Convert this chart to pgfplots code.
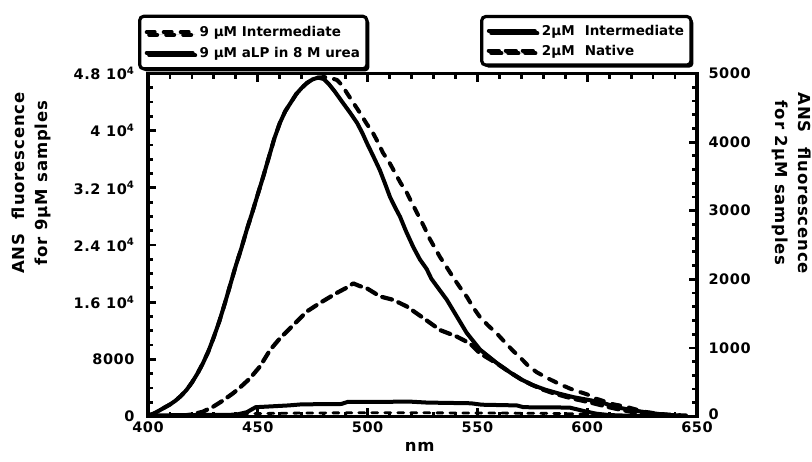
\documentclass[border=0pt]{standalone}
\usepackage{pgfplots}
\usepackage{pgfplotstable}
\pgfplotsset{compat=1.18}
\usepackage{fontspec}
\usetikzlibrary{shadows}
\setmainfont{DejaVu Sans}
\newfontfamily\tickfont{DejaVu Sans}[LetterSpace=4]
\newfontfamily\labfont{DejaVu Sans}[LetterSpace=5]
\newcommand\tickf{\tickfont\bfseries\fontsize{14.5}{16}\selectfont}
\newcommand\labelf{\labfont\bfseries\fontsize{16.5}{23}\selectfont}
\newcommand\legendf{\bfseries\fontsize{13.5}{17}\selectfont}

% 9 uM intermediate (left axis)
\pgfplotstableread{
nm F
400 144
402.5 384
405 816
407.5 1248
410 1680
412.5 2208
415 2880
417.5 3696
420 4752
422.5 6000
425 7440
427.5 9120
430 11136
432.5 13344
435 15840
437.5 18480
440 21120
442.5 23520
445 26160
447.5 28560
450 31104
452.5 33600
455 36240
457.5 38880
460 41040
462.5 42720
465 43920
467.5 45120
470 45984
472.5 46704
475 47184
477.5 47424
480 47500
482.9 47400
486.1 47090
488.5 46300
490.6 45260
493.5 43900
496.5 42500
499.5 41000
502.4 39700
505 38200
507 36900
510 35500
512.5 34100
515 32700
517.9 31300
520 30000
522.5 28500
525.5 26700
528.4 24800
531 23400
533 22300
536 20900
538.9 19500
542 18100
545.3 16700
548 15300
551.2 13900
555 12700
558.9 11600
562.5 10400
566.2 9200
570 8100
573.1 7100
577 6200
581.7 5400
587 4600
592.2 3900
596 3500
599.9 3100
604 2500
608.1 2100
612 1700
617.2 1400
622 1000
626.3 650
631 450
635.4 300
640 200
645 150
}\nineInt

% 9 uM aLP in 8 M urea (left axis)
\pgfplotstableread{
nm F
400 150
440 250
445 600
449 1300
458 1450
464 1550
470 1700
488 1750
491 2050
520 2070
527 1950
547 1850
552 1650
568 1550
571 1300
592 1250
598 800
604 400
610 200
620 100
640 80
}\nineUrea

% baseline trace (left axis)
\pgfplotstableread{
nm F
425 0
435 200
445 380
460 460
480 500
500 520
520 520
540 500
560 480
580 450
595 360
605 200
615 60
625 0
}\blank

% 2 uM intermediate (right axis)
\pgfplotstableread{
nm F
400 15
402.5 40
405 85
407.5 130
410 175
412.5 230
415 300
417.5 385
420 495
422.5 625
425 775
427.5 950
430 1160
432.5 1390
435 1650
437.5 1925
440 2200
442.5 2450
445 2725
447.5 2975
450 3240
452.5 3500
455 3775
457.5 4050
460 4275
462.5 4450
465 4575
467.5 4700
470 4790
472.5 4865
475 4915
477.5 4940
480 4920
482.5 4840
485 4740
488.8 4570
492 4430
495.2 4280
497.5 4140
499.7 3985
502.5 3800
505.6 3590
508 3390
510.2 3200
512.5 3050
514.8 2910
517.5 2700
520.8 2470
523.8 2290
526.9 2150
529 2010
531.5 1900
536 1705
540.6 1460
545.1 1220
551.2 975
558.8 780
565 640
570 540
575 460
581 390
587.6 330
594 280
600 245
606 210
610 170
615 125
620 95
624 75
628 55
633 35
638 22
642 15
}\twoInt

% 2 uM native (right axis)
\pgfplotstableread{
nm F
415 10
420 30
425 70
429.7 143
434 230
438.8 340
442.5 440
446.4 555
451 730
455.6 970
460.1 1140
466.2 1335
472.3 1530
478.3 1655
485.9 1800
490 1870
493.5 1940
496.5 1900
499.6 1870
505.7 1750
511.7 1700
517.8 1605
525.4 1435
533 1260
540.6 1165
546.6 1065
551.2 920
558.8 775
565 640
570 540
575 460
580 390
585 335
590 290
595 250
600 215
605 175
610 135
615 100
620 70
625 45
630 30
635 20
640 10
}\twoNat

\pgfplotsset{
  common/.style={
    at={(148pt,44.5pt)}, anchor=south west,
    scale only axis, width=549pt, height=343pt,
    xmin=400, xmax=650, ymin=0,
    axis line style={line width=3.4pt, line cap=rect},
    tick align=inside,
    major tick length=8pt, minor tick length=5pt,
    every tick/.style={line width=2.8pt, black},
    tick label style={font=\tickf},
    scaled ticks=false,
    legend cell align=left,
    legend image code/.code={\draw[##1] (0pt,0pt) -- (46pt,0pt);},
    legend style={draw=black, line width=3.2pt, rounded corners=4pt,
      fill=white, font=\legendf, inner xsep=5pt, inner ysep=8pt,
      row sep=5pt, column sep=3pt,
      anchor=south west,
      drop shadow={shadow xshift=2.5pt, shadow yshift=-2.5pt, opacity=1, fill=black}},
  },
  curve/.style={line width=4pt, line join=round, line cap=round, black},
  dashcurve/.style={curve, dash pattern=on 8pt off 9pt},
}

\begin{document}
\begin{tikzpicture}
\useasboundingbox (0,0) rectangle (812pt,461pt);
\begin{axis}[
  common, ymax=48000,
  xtick={400,450,...,650}, minor x tick num=4,
  xticklabels={400,450,500,550,600,650},
  xticklabel style={yshift=-2pt},
  xtick pos=both, xticklabel pos=bottom,
  ytick={0,8000,16000,24000,32000,40000,48000}, minor y tick num=3,
  yticklabels={0\hspace{5pt},8000,
    {1.6 10\textsuperscript{4}\hspace{15pt}},
    {2.4 10\textsuperscript{4}\hspace{15pt}},
    {3.2 10\textsuperscript{4}\hspace{15pt}},
    {4 10\textsuperscript{4}\hspace{15pt}},
    {4.8 10\textsuperscript{4}\hspace{15pt}}},
  ytick pos=left,
  yticklabel style={xshift=-10pt},
  every axis y label/.style={at={(rel axis cs:-0.213,0.68)}, rotate=90,
    anchor=center, align=center, font=\labelf},
  ylabel={ANS\hspace{0.5em} fluorescence\\for 9µM samples},
  every axis x label/.style={at={(rel axis cs:0.495,-0.09)}, anchor=center, font=\labelf},
  xlabel={nm},
  legend style={at={(rel axis cs:-0.018,1.009)}},
]
\addplot[dashcurve] table[x=nm, y=F] {\nineInt};
\addlegendentry{9 µM Intermediate}
\addplot[curve] table[x=nm, y=F] {\nineUrea};
\addlegendentry{9 µM aLP in 8 M urea}
\addplot[curve, line width=2.8pt, dash pattern=on 6pt off 7pt, forget plot] table[x=nm, y=F] {\blank};
\end{axis}

\begin{axis}[
  common, ymax=5000,
  axis x line=none, axis y line*=right,
  ytick={0,1000,...,5000}, minor y tick num=4,
  yticklabels={\raisebox{4pt}{0},1000,2000,3000,4000,5000},
  yticklabel style={xshift=8pt},
  every axis y label/.style={at={(rel axis cs:1.173,0.68)}, rotate=-90,
    anchor=center, align=center, font=\labelf},
  ylabel={ANS\hspace{0.5em} fluorescence\\for 2µM samples},
  legend style={at={(rel axis cs:0.605,1.02)}, inner ysep=6.5pt, row sep=4pt},
]
\addplot[curve] table[x=nm, y=F] {\twoInt};
\addlegendentry{2µM\hspace{0.4em} Intermediate}
\addplot[curve, line width=4.2pt, dash pattern=on 10pt off 7pt] table[x=nm, y=F] {\twoNat};
\addlegendentry{2µM\hspace{0.4em} Native}
\end{axis}
\end{tikzpicture}
\end{document}
